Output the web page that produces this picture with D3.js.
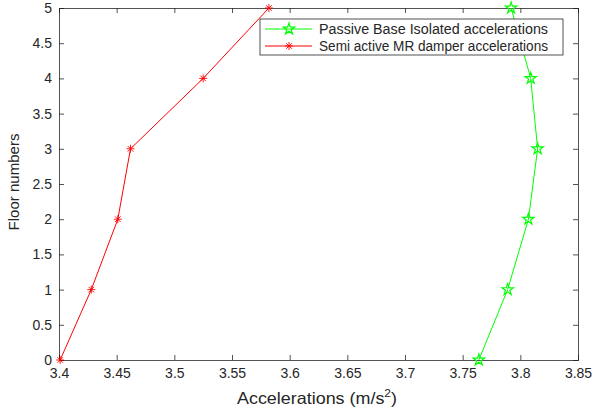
<!DOCTYPE html>
<html>
<head>
<meta charset="utf-8">
<script src="https://cdn.jsdelivr.net/npm/d3@7"></script>
<style>
  body { margin: 0; background: #fff; }
  text { font-family: "Liberation Sans", Arial, sans-serif; }
</style>
</head>
<body>
<div id="chart"></div>
<script>
const width = 594;
const height = 413;

// floors on the y axis
const floors = [0, 1, 2, 3, 4, 5];
// accelerations (m/s^2)
const passiveAcc = [3.764, 3.789, 3.807, 3.815, 3.809, 3.792];
const semiActiveAcc = [3.401, 3.428, 3.451, 3.462, 3.525, 3.582];

const xTicks = [3.4, 3.45, 3.5, 3.55, 3.6, 3.65, 3.7, 3.75, 3.8, 3.85];
const yTicks = [0, 0.5, 1, 1.5, 2, 2.5, 3, 3.5, 4, 4.5, 5];
const legendNames = ["Passive Base Isolated accelerations", "Semi active MR damper accelerations"];

const margin = { left: 59, right: 16, top: 8, bottom: 53 };

const svg = d3.select("#chart")
  .append("svg")
  .attr("width", width)
  .attr("height", height);

const x = d3.scaleLinear().domain([3.4, 3.85]).range([margin.left, width - margin.right]);
const y = d3.scaleLinear().domain([0, 5]).range([height - margin.bottom, margin.top]);

const axisColor = "#262626";

// axes with inward ticks, box all around
const xAxis = svg.append("g")
  .attr("transform", `translate(0,${y(0)})`)
  .call(d3.axisBottom(x).tickValues(xTicks).tickSize(-5).tickPadding(8).tickFormat(d3.format("")));
const xTop = svg.append("g")
  .attr("transform", `translate(0,${y(5)})`)
  .call(d3.axisTop(x).tickValues(xTicks).tickSize(-5).tickFormat(""));
const yAxis = svg.append("g")
  .attr("transform", `translate(${x(3.4)},0)`)
  .call(d3.axisLeft(y).tickValues(yTicks).tickSize(-5).tickPadding(7).tickFormat(d3.format("")));
const yRight = svg.append("g")
  .attr("transform", `translate(${x(3.85)},0)`)
  .call(d3.axisRight(y).tickValues(yTicks).tickSize(-5).tickFormat(""));

[xAxis, xTop, yAxis, yRight].forEach(g => {
  g.selectAll("path").attr("stroke", axisColor).attr("stroke-width", 0.8);
  g.selectAll("line").attr("stroke", axisColor).attr("stroke-width", 0.8);
  g.selectAll("text").attr("fill", axisColor).style("font-size", "14px");
});

// axis titles
const xLabel = svg.append("text")
  .attr("x", 317)
  .attr("y", 404)
  .attr("text-anchor", "middle")
  .attr("fill", axisColor)
  .style("font-size", "16.5px")
  .attr("textLength", 160)
  .attr("lengthAdjust", "spacingAndGlyphs");
xLabel.append("tspan").text("Accelerations (m/s");
xLabel.append("tspan").attr("dy", -7).style("font-size", "11px").text("2");
xLabel.append("tspan").attr("dy", 7).text(")");

svg.append("text")
  .attr("transform", `translate(19,${(y(0) + y(5)) / 2 - 2}) rotate(-90)`)
  .attr("text-anchor", "middle")
  .attr("fill", axisColor)
  .style("font-size", "15.5px")
  .attr("textLength", 97)
  .attr("lengthAdjust", "spacingAndGlyphs")
  .text("Floor numbers");

const line = d3.line().x(d => x(d[0])).y(d => y(d[1]));

const starPath = d3.symbol().type(d3.symbolStar).size(40);

function asterisk(g, cx, cy, color) {
  const r = 4;
  const a = g.append("g").attr("transform", `translate(${cx},${cy})`)
    .attr("stroke", color).attr("stroke-width", 0.9);
  a.append("line").attr("x1", -r).attr("x2", r);
  a.append("line").attr("y1", -r).attr("y2", r);
  a.append("line").attr("x1", -r * 0.7).attr("y1", -r * 0.7).attr("x2", r * 0.7).attr("y2", r * 0.7);
  a.append("line").attr("x1", -r * 0.7).attr("y1", r * 0.7).attr("x2", r * 0.7).attr("y2", -r * 0.7);
}

// passive series
const passive = floors.map((f, i) => [passiveAcc[i], f]);
svg.append("path").datum(passive)
  .attr("fill", "none").attr("stroke", "#00ff00").attr("stroke-width", 1)
  .attr("d", line);
svg.selectAll(".pstar").data(passive).enter().append("path")
  .attr("class", "pstar")
  .attr("d", starPath)
  .attr("transform", d => `translate(${x(d[0])},${y(d[1])})`)
  .attr("fill", "none").attr("stroke", "#00ff00").attr("stroke-width", 1.2);

// semi active series
const semi = floors.map((f, i) => [semiActiveAcc[i], f]);
svg.append("path").datum(semi)
  .attr("fill", "none").attr("stroke", "#ff0000").attr("stroke-width", 1)
  .attr("d", line);
semi.forEach(d => asterisk(svg, x(d[0]), y(d[1]), "#ff0000"));

// legend
const lg = svg.append("g").attr("transform", "translate(260,19)");
lg.append("rect").attr("width", 303).attr("height", 36)
  .attr("fill", "#fff").attr("stroke", axisColor).attr("stroke-width", 0.8);
const colors = ["#00ff00", "#ff0000"];
legendNames.forEach((name, i) => {
  const ly = 10 + i * 17;
  lg.append("line").attr("x1", 5).attr("x2", 52).attr("y1", ly).attr("y2", ly)
    .attr("stroke", colors[i]).attr("stroke-width", 1);
  if (i === 0) {
    lg.append("path").attr("d", starPath).attr("transform", `translate(29,${ly})`)
      .attr("fill", "none").attr("stroke", colors[i]).attr("stroke-width", 1.2);
  } else {
    asterisk(lg, 29, ly, colors[i]);
  }
  lg.append("text").attr("x", 59).attr("y", ly + 5)
    .attr("fill", axisColor).style("font-size", "14px")
    .attr("textLength", 229).attr("lengthAdjust", "spacingAndGlyphs")
    .text(name);
});
</script>
</body>
</html>
